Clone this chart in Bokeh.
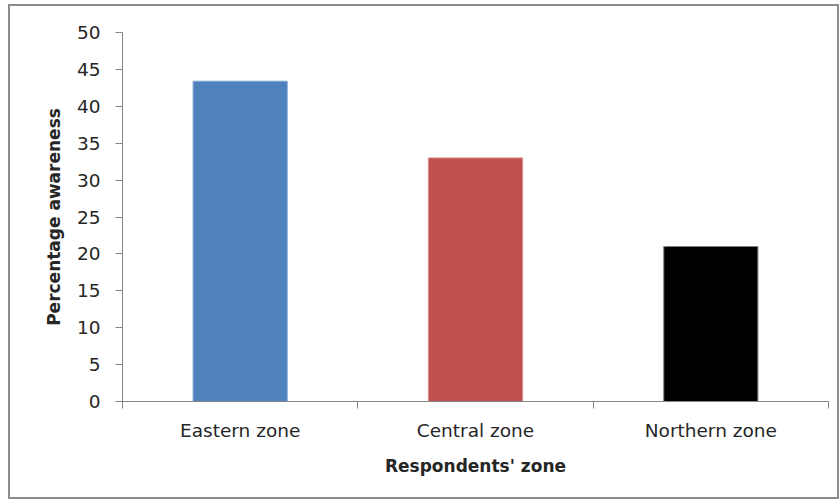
from bokeh.plotting import figure
from bokeh.models import ColumnDataSource, Range1d, FixedTicker
from bokeh.embed import file_html
from bokeh.resources import INLINE

# Awareness by zone (percent)
zones = ["Eastern zone", "Central zone", "Northern zone"]
awareness = [43.4, 33.0, 21.0]
y_ticks = [0, 5, 10, 15, 20, 25, 30, 35, 40, 45, 50]

fill_colors = ["#4F81BD", "#C0504D", "#000000"]
edge_colors = ["#7FA3D0", "#D98A88", "#7F7F7F"]

centers = [i + 0.5 for i in range(len(zones))]
source = ColumnDataSource(dict(x=centers, top=awareness, zone=zones,
                               fill=fill_colors, edge=edge_colors))

FONT = "DejaVu Sans"
AXIS_GREY = "#868686"
TEXT = "#262626"

p = figure(width=827, height=491, output_backend="svg", toolbar_location=None,
           x_range=Range1d(0, len(zones)), y_range=Range1d(0, 50),
           min_border_left=112, min_border_right=9, min_border_top=26,
           min_border_bottom=96, background_fill_color="white",
           border_fill_color="white", outline_line_color=None)
p.margin = (6, 3, 6, 10)
p.styles = {"outline": "2px solid #8C8C8C"}

p.vbar(x="x", top="top", width=0.40, bottom=0, source=source,
       fill_color="fill", line_color="edge", line_width=1)

p.grid.visible = False

# x axis: labels at bar centres, short ticks at category boundaries
xa = p.xaxis[0]
xa.ticker = FixedTicker(ticks=centers, minor_ticks=list(range(len(zones) + 1)))
xa.major_label_overrides = {c: z for c, z in zip(centers, zones)}
xa.major_tick_line_color = None
xa.minor_tick_line_color = AXIS_GREY
xa.minor_tick_out = 7
xa.minor_tick_in = 0
xa.axis_line_color = AXIS_GREY
xa.major_label_text_font = FONT
xa.major_label_text_font_size = "18.5px"
xa.major_label_text_color = TEXT
xa.major_label_standoff = 11
xa.axis_label = "Respondents' zone"
xa.axis_label_text_font = FONT
xa.axis_label_text_font_size = "17px"
xa.axis_label_text_font_style = "bold"
xa.axis_label_text_color = TEXT
xa.axis_label_standoff = 12

ya = p.yaxis[0]
ya.ticker = FixedTicker(ticks=y_ticks)
ya.minor_tick_line_color = None
ya.major_tick_line_color = AXIS_GREY
ya.major_tick_out = 7
ya.major_tick_in = 0
ya.axis_line_color = AXIS_GREY
ya.major_label_text_font = FONT
ya.major_label_text_font_size = "18.5px"
ya.major_label_text_color = TEXT
ya.major_label_standoff = 15
ya.axis_label = "Percentage awareness"
ya.axis_label_text_font = FONT
ya.axis_label_text_font_size = "17px"
ya.axis_label_text_font_style = "bold"
ya.axis_label_text_color = TEXT
ya.axis_label_standoff = 10

open("out.html", "w").write(file_html(p, INLINE))
